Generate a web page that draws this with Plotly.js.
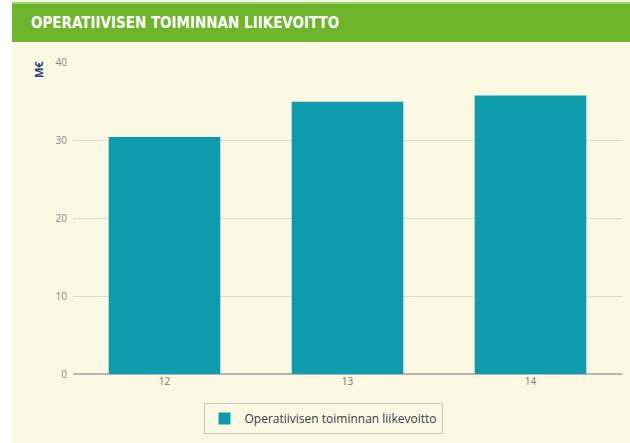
<!DOCTYPE html>
<html><head><meta charset="utf-8">
<script src="https://cdn.plot.ly/plotly-3.0.1.min.js"></script>
<style>html,body{margin:0;padding:0;background:#fff}#chart{width:630px;height:443px}</style>
</head><body><div id="chart"></div>
<script>
const categories = ["12", "13", "14"];
const values = [30.4, 34.9, 35.7];
const seriesName = "Operatiivisen toiminnan liikevoitto";
const yTicks = [0, 10, 20, 30, 40];
const chartTitle = "OPERATIIVISEN TOIMINNAN LIIKEVOITTO";
const yTitle = "M€";

const data = [{
  type: "bar", x: categories, y: values, name: seriesName,
  marker: {color: "#0e9bac"}, showlegend: true, hoverinfo: "x+y"
}];
const layout = {
  width: 630, height: 443,
  margin: {l: 73, r: 8, t: 62, b: 69, autoexpand: false},
  paper_bgcolor: "#ffffff", plot_bgcolor: "rgba(0,0,0,0)",
  bargap: 0.39,
  showlegend: true,
  title: {text: chartTitle, x: 31/630, xanchor: "left", y: 1-23/443, yanchor: "middle",
    font: {family: "DejaVu Sans Condensed, Liberation Sans Narrow, sans-serif", size: 15, color: "#ffffff", weight: 700}},
  xaxis: {type: "category", range: [-0.5, 2.5], showgrid: false, zeroline: false, showline: false,
    ticks: "", tickfont: {family: "Open Sans, sans-serif", size: 10, color: "#777"}, fixedrange: true},
  yaxis: {range: [0, 40], tickvals: yTicks, showgrid: true, gridcolor: "#dcdccb", gridwidth: 1,
    zeroline: true, zerolinecolor: "#b8b8b0", zerolinewidth: 1.5, showline: false,
    ticks: "", ticklabelstandoff: 5,
    tickfont: {family: "Open Sans, sans-serif", size: 10, color: "#888"}, fixedrange: true},
  legend: {orientation: "h", x: (323-73)/549, xanchor: "center", y: -29/312, yanchor: "top",
    bordercolor: "#c8c8b8", borderwidth: 1, bgcolor: "rgba(0,0,0,0)", itemwidth: 30,
    font: {family: "Open Sans, sans-serif", size: 12, color: "#3a3a4a"}},
  shapes: [
    {type: "rect", xref: "paper", yref: "paper", x0: -61/549, x1: 1 + 8/549, y0: -69/312, y1: 1 + 62/312,
      fillcolor: "#fbf9e3", line: {width: 0}, layer: "below"},
    {type: "rect", xref: "paper", yref: "paper", x0: -61/549, x1: 1 + 8/549, y0: 1 + 20/312, y1: 1 + 59/312,
      fillcolor: "#6db52b", line: {width: 0}, layer: "below"},
    {type: "rect", xref: "paper", yref: "paper", x0: -61/549, x1: 1 + 8/549, y0: 1 + 58/312, y1: 1 + 60/312,
      fillcolor: "#9fd46a", line: {width: 0}, layer: "below"}
  ],
  annotations: [
    {text: yTitle, xref: "paper", yref: "paper", x: -35/549, y: 1 - 8/312, textangle: -90,
      showarrow: false, xanchor: "center", yanchor: "middle",
      font: {family: "Open Sans, sans-serif", size: 11, color: "#2a3d7c", weight: 700}}
  ]
};
Plotly.newPlot("chart", data, layout, {displayModeBar: false, staticPlot: true});
</script></body></html>
